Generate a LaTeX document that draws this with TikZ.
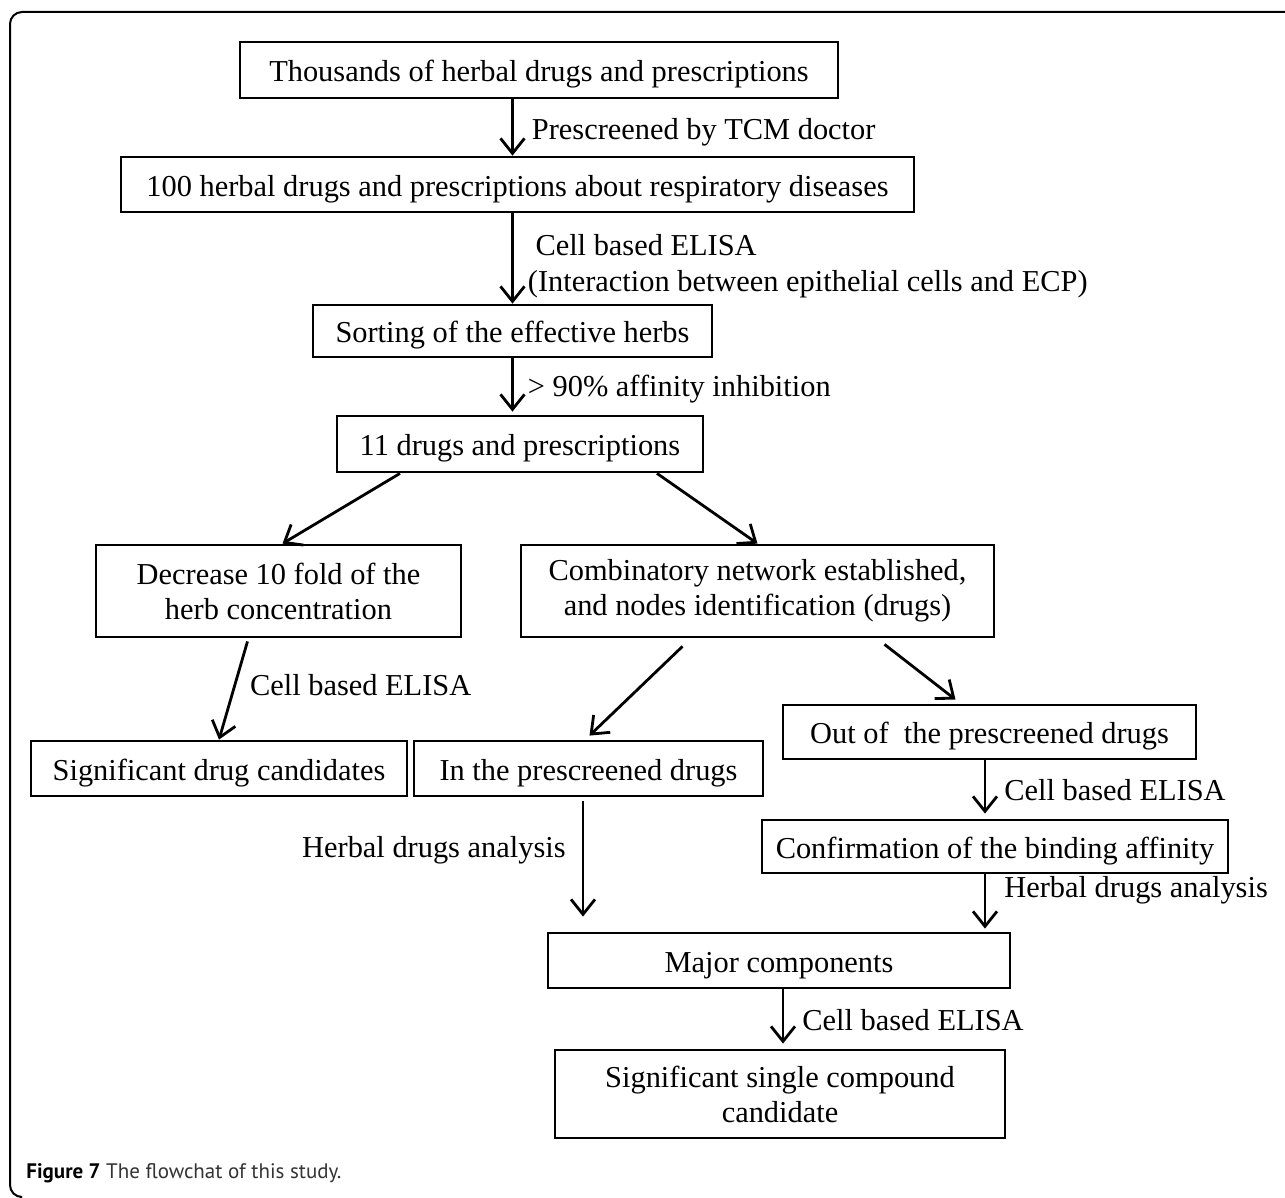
\documentclass[tikz,border=0pt]{standalone}
\usepackage{fontspec}
\setmainfont{Liberation Serif}
\newfontfamily\capfont{PT Sans}
\usetikzlibrary{arrows.meta,calc}

\begin{document}
\begin{tikzpicture}[x=0.5pt, y=-0.5pt,
    box/.style={draw, line width=1.4pt, inner sep=0pt, align=center, font=\fontsize{15.2}{17.5}\selectfont},
    onebox/.style={box, text height=14.9pt, text depth=3.3pt},
    lbl/.style={inner sep=0pt, align=left, font=\fontsize{15.2}{18}\selectfont},
    arr/.style={line width=1.4pt, -{Straight Barb[length=7.5pt,width=12pt,line width=1.4pt]}}]
    \useasboundingbox (0,0) rectangle (1285,1198);
    \draw[line width=1pt, rounded corners=6pt] (20,1197) -- (10,1197) -- (10,12) -- (1285,12);

    \node (thousands) [onebox, minimum width=299pt, minimum height=28pt] at (539,70) {Thousands of herbal drugs and prescriptions};
    \node (hundred) [onebox, minimum width=396.5pt, minimum height=27.5pt] at (517.5,184.5) {100 herbal drugs and prescriptions about respiratory diseases};
    \node (sorting) [onebox, minimum width=199.5pt, minimum height=26pt] at (512.5,331) {Sorting of the effective herbs};
    \node (eleven) [onebox, minimum width=183pt, minimum height=28pt] at (520,444) {11 drugs and prescriptions};
    \node (decrease) [box, minimum width=182.5pt, minimum height=46pt] at (278.5,591) {Decrease 10 fold of the\\herb concentration};
    \node (network) [box, minimum width=236.5pt, minimum height=46pt] at (757.5,591) {Combinatory network established,\\and nodes identification (drugs)};
    \node (candidates) [onebox, minimum width=188pt, minimum height=27.5pt] at (219,768.5) {Significant drug candidates};
    \node (inpre) [onebox, minimum width=174.5pt, minimum height=27.5pt] at (588.5,768.5) {In the prescreened drugs};
    \node (outpre) [onebox, minimum width=206.5pt, minimum height=27pt] at (989.5,732) {Out of\ \ the prescreened drugs};
    \node (confirm) [onebox, minimum width=233pt, minimum height=26.5pt] at (995,846.5) {Confirmation of the binding affinity};
    \node (major) [onebox, minimum width=231pt, minimum height=27.5pt] at (779,960.5) {Major components};
    \node (single) [box, minimum width=225pt, minimum height=44pt] at (780,1094) {Significant single compound\\candidate};

    \draw[arr] (thousands.south -| sorting.south) -- node[lbl, right=9pt, pos=0.58] {Prescreened by TCM doctor} (hundred.north -| sorting.north);
    \draw[arr] (hundred.south -| sorting.south) -- node[lbl, right=7pt, pos=0.58] {\ Cell based ELISA\\(Interaction between epithelial cells and ECP)} (sorting.north);
    \draw[arr] (sorting.south) -- node[lbl, right=7pt, pos=0.58] {> 90\% affinity inhibition} ($(eleven.north -| sorting.south)+(0,-3)$);
    \draw[arr] ($(eleven.south)+(-120,0)$) -- ($(decrease.north)+(4,0)$);
    \draw[arr] ($(eleven.south)+(137,0)$) -- (network.north);
    \draw[arr] ($(decrease.south)+(-31,3)$) -- node[lbl, right=7pt, pos=0.45] {Cell based ELISA} (candidates.north);
    \draw[arr] ($(network.south)+(-75,8)$) -- ($(inpre.north)+(1,-4)$);
    \draw[arr] ($(network.south)+(127,6)$) -- ($(outpre.north)+(-34,-4)$);
    \draw[arr] ($(outpre.south)+(-4.5,0)$) -- node[lbl, right=9pt, pos=0.55] {Cell based ELISA} ($(confirm.north)+(-10,-5)$);
    \draw[arr] ($(confirm.south)+(-10,0)$) -- node[lbl, right=9pt, pos=0.3] {Herbal drugs analysis} ($(major.north -| confirm.south)+(-10,-3)$);
    \draw[arr] ($(inpre.south)+(-5.5,4)$) -- node[lbl, left=8pt, pos=0.42] {Herbal drugs analysis} ($(major.north -| inpre.south)+(-5.5,-15)$);
    \draw[arr] ($(major.south)+(4,0)$) -- node[lbl, right=9pt, pos=0.56] {Cell based ELISA} ($(single.north)+(3,-5)$);

    \node (caption) [anchor=base west, inner sep=0pt, font=\capfont\fontsize{10.5}{12}\selectfont] at (26,1178) {\textbf{Figure 7} \textcolor{black!80}{The flowchat of this study.}};
\end{tikzpicture}
\end{document}
